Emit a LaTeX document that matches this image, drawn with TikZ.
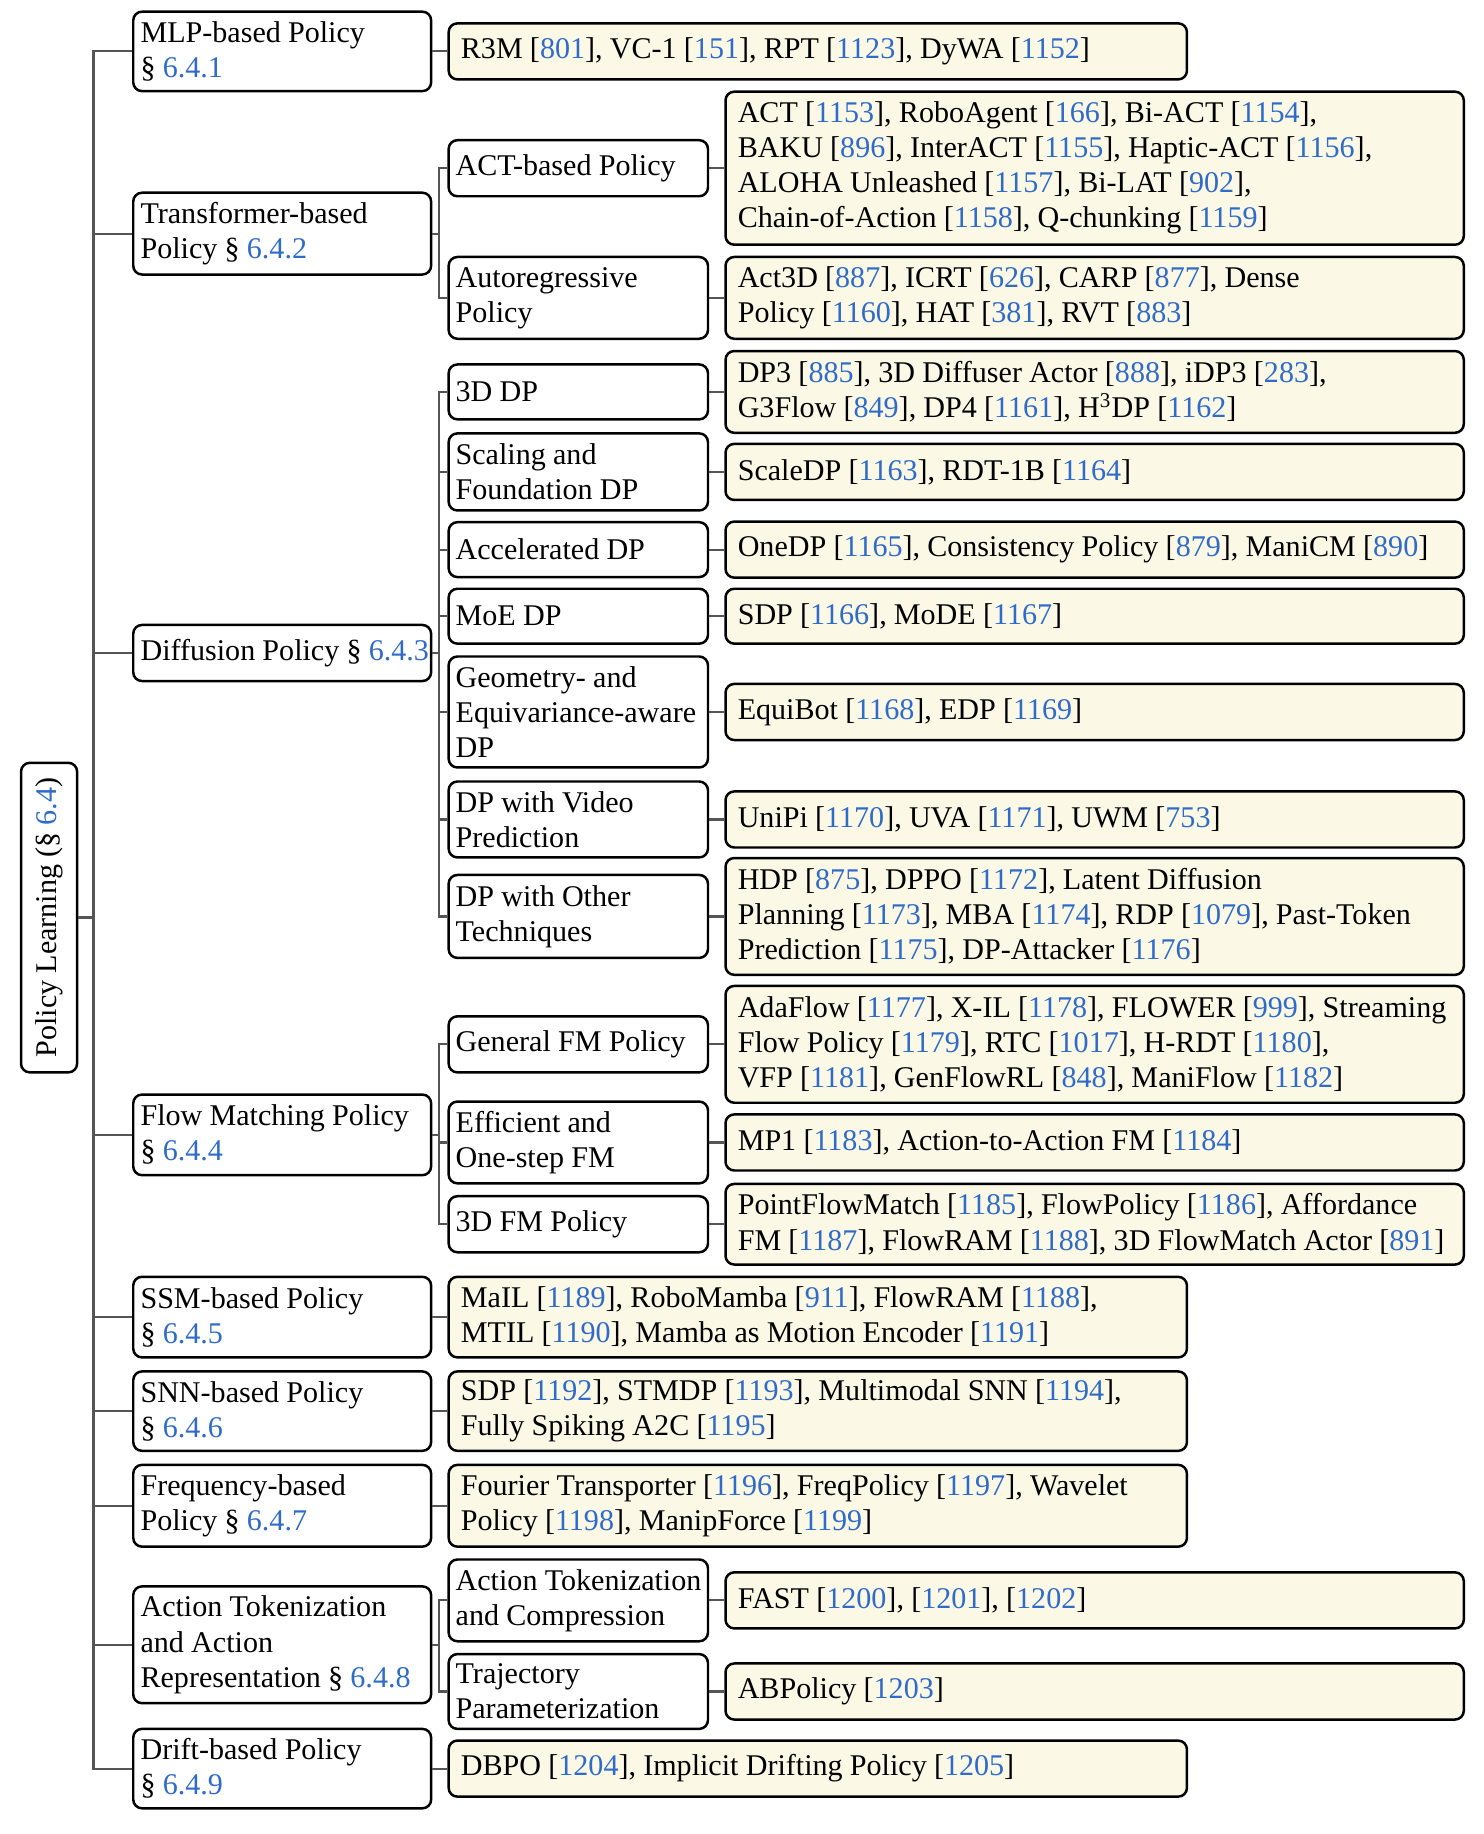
\documentclass[tikz,border=0pt]{standalone}
\usepackage{fontspec}
\setmainfont{Liberation Serif}
\definecolor{refblue}{HTML}{2F6BC9}
\definecolor{leaffill}{HTML}{FCF8E6}
\definecolor{conncol}{HTML}{555555}
\newcommand{\rf}[1]{[\textcolor{refblue}{#1}]}
\newcommand{\sct}[1]{\S~\textcolor{refblue}{#1}}
\newcommand{\ml}[1]{\mbox{\spaceskip 0.24em plus 0.05em minus 0.03em\relax #1}}
\begin{document}
\begin{tikzpicture}[x=0.4pt,y=-0.4pt,
  box/.style={draw=black, line width=0.85pt, rounded corners=3pt,
    font=\fontsize{10.3}{12}\selectfont, align=left, inner ysep=0pt, anchor=west},
  lone/.style={box, fill=white, text width=97pt, inner xsep=2.5pt},
  ltwo/.style={box, fill=white, text width=84pt, inner xsep=2.4pt},
  leaf/.style={box, fill=leaffill, text width=244.4pt, inner xsep=4.2pt},
  hh/.style={minimum height=#1*0.4pt},
  conn/.style={draw=conncol, line width=0.75pt}]
\useasboundingbox (0,0) rectangle (1270,1570);

% root
\node[box, fill=white, anchor=center, rotate=90, minimum width=265*0.4pt,
      minimum height=48*0.4pt, inner xsep=0pt] (root) at (42,785.5)
      {\ml{Policy Learning (\sct{6.4})}};
\coordinate (T) at (80,0);
\coordinate (BA) at (375.5,0);

% level 1
\node[lone, hh=68] (mlp)   at (113,44)    {\ml{MLP-based Policy}\\\ml{\sct{6.4.1}}};
\node[lone, hh=70] (trans) at (113,200)   {\ml{Transformer-based}\\\ml{Policy \sct{6.4.2}}};
\node[lone, hh=48] (diff)  at (113,559)   {\ml{Diffusion Policy \sct{6.4.3}}};
\node[lone, hh=69] (flow)  at (113,971.5) {\ml{Flow Matching Policy}\\\ml{\sct{6.4.4}}};
\node[lone, hh=69] (ssm)   at (113,1127.5){\ml{SSM-based Policy}\\\ml{\sct{6.4.5}}};
\node[lone, hh=68] (snn)   at (113,1208)  {\ml{SNN-based Policy}\\\ml{\sct{6.4.6}}};
\node[lone, hh=70] (freq)  at (113,1289)  {\ml{Frequency-based}\\\ml{Policy \sct{6.4.7}}};
\node[lone, hh=100] (atok) at (113,1408)  {\ml{Action Tokenization}\\\ml{and Action}\\\ml{Representation \sct{6.4.8}}};
\node[lone, hh=68] (drift) at (113,1514)  {\ml{Drift-based Policy}\\\ml{\sct{6.4.9}}};

% level 2
\node[ltwo, hh=48] (act)   at (383,144)   {\ml{ACT-based Policy}};
\node[ltwo, hh=70] (auto)  at (383,255)   {\ml{Autoregressive}\\\ml{Policy}};
\node[ltwo, hh=47] (dp3d)  at (383,335.5) {\ml{3D DP}};
\node[ltwo, hh=66] (scal)  at (383,404)   {\ml{Scaling and}\\\ml{Foundation DP}};
\node[ltwo, hh=47] (accel) at (383,470.5) {\ml{Accelerated DP}};
\node[ltwo, hh=47] (moe)   at (383,527.5) {\ml{MoE DP}};
\node[ltwo, hh=95] (geo)   at (383,609.5) {\ml{Geometry- and}\\\ml{Equivariance-aware}\\\ml{DP}};
\node[ltwo, hh=65] (video) at (383,701.5) {\ml{DP with Video}\\\ml{Prediction}};
\node[ltwo, hh=71] (other) at (383,784.5) {\ml{DP with Other}\\\ml{Techniques}};
\node[ltwo, hh=48] (genfm) at (383,894)   {\ml{General FM Policy}};
\node[ltwo, hh=70] (effm)  at (383,978)   {\ml{Efficient and}\\\ml{One-step FM}};
\node[ltwo, hh=48] (fm3d)  at (383,1048)  {\ml{3D FM Policy}};
\node[ltwo, hh=70] (atc)   at (383,1370)  {\ml{Action Tokenization}\\\ml{and Compression}};
\node[ltwo, hh=64] (traj)  at (383,1448)  {\ml{Trajectory}\\\ml{Parameterization}};

% leaves under level 1
\node[leaf, hh=48] (lmlp)   at (383,44)     {\ml{R3M \rf{801}, VC-1 \rf{151}, RPT \rf{1123}, DyWA \rf{1152}}};
\node[leaf, hh=69] (lssm)   at (383,1127.5) {\ml{MaIL \rf{1189}, RoboMamba \rf{911}, FlowRAM \rf{1188},}\\\ml{MTIL \rf{1190}, Mamba as Motion Encoder \rf{1191}}};
\node[leaf, hh=68] (lsnn)   at (383,1208)   {\ml{SDP \rf{1192}, STMDP \rf{1193}, Multimodal SNN \rf{1194},}\\\ml{Fully Spiking A2C \rf{1195}}};
\node[leaf, hh=70] (lfreq)  at (383,1289)   {\ml{Fourier Transporter \rf{1196}, FreqPolicy \rf{1197}, Wavelet}\\\ml{Policy \rf{1198}, ManipForce \rf{1199}}};
\node[leaf, hh=48] (ldrift) at (383,1514)   {\ml{DBPO \rf{1204}, Implicit Drifting Policy \rf{1205}}};

% leaves under level 2
\node[leaf, hh=131] (lact)  at (620,144)   {\ml{ACT \rf{1153}, RoboAgent \rf{166}, Bi-ACT \rf{1154},}\\\ml{BAKU \rf{896}, InterACT \rf{1155}, Haptic-ACT \rf{1156},}\\\ml{ALOHA Unleashed \rf{1157}, Bi-LAT \rf{902},}\\\ml{Chain-of-Action \rf{1158}, Q-chunking \rf{1159}}};
\node[leaf, hh=70] (lauto)  at (620,255)   {\ml{Act3D \rf{887}, ICRT \rf{626}, CARP \rf{877}, Dense}\\\ml{Policy \rf{1160}, HAT \rf{381}, RVT \rf{883}}};
\node[leaf, hh=70] (ldp3d)  at (620,335.5) {\ml{DP3 \rf{885}, 3D Diffuser Actor \rf{888}, iDP3 \rf{283},}\\\ml{G3Flow \rf{849}, DP4 \rf{1161}, H\textsuperscript{3}DP \rf{1162}}};
\node[leaf, hh=48] (lscal)  at (620,404)   {\ml{ScaleDP \rf{1163}, RDT-1B \rf{1164}}};
\node[leaf, hh=48] (laccel) at (620,470.5) {\ml{OneDP \rf{1165}, Consistency Policy \rf{879}, ManiCM \rf{890}}};
\node[leaf, hh=47] (lmoe)   at (620,527.5) {\ml{SDP \rf{1166}, MoDE \rf{1167}}};
\node[leaf, hh=48] (lgeo)   at (620,609.5) {\ml{EquiBot \rf{1168}, EDP \rf{1169}}};
\node[leaf, hh=48] (lvideo) at (620,701.5) {\ml{UniPi \rf{1170}, UVA \rf{1171}, UWM \rf{753}}};
\node[leaf, hh=100] (lother) at (620,784.5) {\ml{HDP \rf{875}, DPPO \rf{1172}, Latent Diffusion}\\\ml{Planning \rf{1173}, MBA \rf{1174}, RDP \rf{1079}, Past-Token}\\\ml{Prediction \rf{1175}, DP-Attacker \rf{1176}}};
\node[leaf, hh=100] (lgenfm) at (620,894)   {\ml{AdaFlow \rf{1177}, X-IL \rf{1178}, FLOWER \rf{999}, Streaming}\\\ml{Flow Policy \rf{1179}, RTC \rf{1017}, H-RDT \rf{1180},}\\\ml{VFP \rf{1181}, GenFlowRL \rf{848}, ManiFlow \rf{1182}}};
\node[leaf, hh=48] (leffm)  at (620,978)   {\ml{MP1 \rf{1183}, Action-to-Action FM \rf{1184}}};
\node[leaf, hh=69] (lfm3d)  at (620,1048)  {\ml{PointFlowMatch \rf{1185}, FlowPolicy \rf{1186}, Affordance}\\\ml{FM \rf{1187}, FlowRAM \rf{1188}, 3D FlowMatch Actor \rf{891}}};
\node[leaf, hh=48] (latc)   at (620,1370)  {\ml{FAST \rf{1200}, \rf{1201}, \rf{1202}}};
\node[leaf, hh=48] (ltraj)  at (620,1448)  {\ml{ABPolicy \rf{1203}}};

% connectors: root to level 1
\foreach \c in {mlp,trans,diff,flow,ssm,snn,freq,atok,drift}
  \draw[conn] (root.south) -- (root.south -| T) |- (\c.west);
% level 1 to level 2
\foreach \p/\c in {trans/act,trans/auto,
  diff/dp3d,diff/scal,diff/accel,diff/moe,diff/geo,diff/video,diff/other,
  flow/genfm,flow/effm,flow/fm3d,atok/atc,atok/traj}
  \draw[conn] (\p.east) -- (\p.east -| BA) |- (\c.west);
% level 1 straight to leaves
\foreach \p/\c in {mlp/lmlp,ssm/lssm,snn/lsnn,freq/lfreq,drift/ldrift}
  \draw[conn] (\p.east) -- (\c.west);
% level 2 to leaves
\foreach \p/\c in {act/lact,auto/lauto,dp3d/ldp3d,scal/lscal,accel/laccel,moe/lmoe,
  geo/lgeo,video/lvideo,other/lother,genfm/lgenfm,effm/leffm,fm3d/lfm3d,atc/latc,traj/ltraj}
  \draw[conn] (\p.east) -- (\c.west);
\end{tikzpicture}
\end{document}
